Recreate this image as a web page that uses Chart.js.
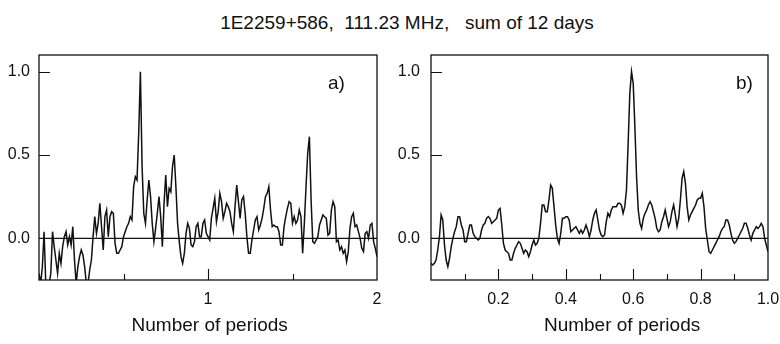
<!DOCTYPE html>
<html><head><meta charset="utf-8">
<script src="https://cdn.jsdelivr.net/npm/chart.js@4/dist/chart.umd.min.js"></script>
<style>
html,body{margin:0;padding:0;background:#fff;}
#wrap{position:relative;width:780px;height:344px;overflow:hidden;background:#fff;}
#title{position:absolute;left:0;width:814px;top:12px;text-align:center;font:19px "Liberation Sans",Arial,Helvetica,sans-serif;color:#111;white-space:pre;line-height:22px;}
canvas{position:absolute;top:50px;}
#ca{left:0}
#cb{left:390px}
</style></head><body>
<div id="wrap"><div id="title">1E2259+586,  111.23 MHz,   sum of 12 days</div>
<canvas id="ca" width="390" height="294"></canvas>
<canvas id="cb" width="390" height="294"></canvas></div>
<script>
// ---- data ----
const titleText = "1E2259+586,  111.23 MHz,   sum of 12 days";
const xTitle = "Number of periods";
const yTicks = [0, 0.5, 1.0];
const xLabelsA = [1, 2];
const xMajorA = [1];
const xMinorA = [0.5, 1.5];
const xLabelsB = [0.2, 0.4, 0.6, 0.8, 1.0];
const xMajorB = [0.2, 0.4, 0.6, 0.8];
const xMinorB = [0.1, 0.3, 0.5, 0.7, 0.9];

const phaseA = [
0,0.01,0.02,0.03,0.04,0.05,0.06,0.07,0.08,0.09,
0.10,0.11,0.12,0.13,0.14,0.15,0.16,0.17,0.18,0.19,
0.20,0.21,0.22,0.23,0.24,0.25,0.26,0.27,0.28,0.29,
0.30,0.31,0.32,0.33,0.34,0.35,0.36,0.37,0.38,0.39,
0.40,0.41,0.42,0.43,0.44,0.45,0.46,0.47,0.48,0.49,
0.50,0.51,0.52,0.53,0.54,0.55,0.56,0.57,0.58,0.59,
0.60,0.61,0.62,0.63,0.64,0.65,0.66,0.67,0.68,0.69,
0.70,0.71,0.72,0.73,0.74,0.75,0.76,0.77,0.78,0.79,
0.80,0.81,0.82,0.83,0.84,0.85,0.86,0.87,0.88,0.89,
0.90,0.91,0.92,0.93,0.94,0.95,0.96,0.97,0.98,0.99,
1.00,1.01,1.02,1.03,1.04,1.05,1.06,1.07,1.08,1.09,
1.10,1.11,1.12,1.13,1.14,1.15,1.16,1.17,1.18,1.19,
1.20,1.21,1.22,1.23,1.24,1.25,1.26,1.27,1.28,1.29,
1.30,1.31,1.32,1.33,1.34,1.35,1.36,1.37,1.38,1.39,
1.40,1.41,1.42,1.43,1.44,1.45,1.46,1.47,1.48,1.49,
1.50,1.51,1.52,1.53,1.54,1.55,1.56,1.57,1.58,1.59,
1.60,1.61,1.62,1.63,1.64,1.65,1.66,1.67,1.68,1.69,
1.70,1.71,1.72,1.73,1.74,1.75,1.76,1.77,1.78,1.79,
1.80,1.81,1.82,1.83,1.84,1.85,1.86,1.87,1.88,1.89,
1.90,1.91,1.92,1.93,1.94,1.95,1.96,1.97,1.98,1.99,
2.00];

const powerA = [
-0.21,-0.27,-0.17,0.04,-0.27,-0.27,-0.27,-0.21,0.04,-0.05,
-0.13,-0.21,-0.09,-0.15,-0.05,0.01,0.04,-0.04,0.01,-0.04,
0.07,-0.13,-0.27,-0.17,-0.11,-0.07,-0.10,-0.17,-0.27,-0.27,
-0.19,-0.13,0.01,0.13,0.03,0.09,0.21,0.07,-0.07,0.13,
0.17,0.01,0.13,0.16,0.15,-0.03,-0.09,-0.09,-0.07,-0.05,
0.01,0.04,0.07,0.09,0.13,0.11,0.31,0.37,0.35,0.63,
1.00,0.43,0.15,0.09,0.23,0.35,0.25,0.09,-0.02,0.06,
0.15,0.25,0.13,-0.05,0.21,0.38,0.19,0.30,0.28,0.43,
0.50,0.31,0.09,-0.02,-0.11,-0.15,-0.09,0.03,0.09,0.06,
-0.04,-0.05,-0.02,0.07,0.09,0.01,0.01,0.09,0.11,0.03,
0.01,-0.01,0.12,0.18,0.24,0.10,0.16,0.27,0.22,0.12,
0.16,0.21,0.19,0.16,0.09,0.04,0.19,0.32,0.22,0.12,
0.23,0.25,0.15,0.01,-0.09,-0.09,-0.01,0.05,0.11,0.13,
0.05,0.08,0.12,0.18,0.25,0.27,0.31,0.17,0.07,0.08,
0.07,0.07,0.04,-0.04,-0.04,0.07,0.13,0.18,0.22,0.21,
0.09,0.13,0.09,0.11,0.17,0.13,-0.09,0.09,0.31,0.51,
0.61,0.23,-0.02,-0.03,-0.01,0.01,0.08,0.11,0.14,0.13,
0.12,0.02,0.03,0.17,0.22,0.19,-0.02,-0.01,-0.07,-0.05,
-0.09,-0.07,-0.14,-0.08,0.06,0.13,0.15,0.07,0.08,0.04,
0.00,-0.06,-0.08,0.03,0.04,0.00,0.08,0.09,-0.02,-0.06,
-0.11];

const phaseB = [
0,0.005,0.010,0.015,0.020,0.025,0.030,0.035,0.040,0.045,
0.050,0.055,0.060,0.065,0.070,0.075,0.080,0.085,0.090,0.095,
0.100,0.105,0.110,0.115,0.120,0.125,0.130,0.135,0.140,0.145,
0.150,0.155,0.160,0.165,0.170,0.175,0.180,0.185,0.190,0.195,
0.200,0.205,0.210,0.215,0.220,0.225,0.230,0.235,0.240,0.245,
0.250,0.255,0.260,0.265,0.270,0.275,0.280,0.285,0.290,0.295,
0.300,0.305,0.310,0.315,0.320,0.325,0.330,0.335,0.340,0.345,
0.350,0.355,0.360,0.365,0.370,0.375,0.380,0.385,0.390,0.395,
0.400,0.405,0.410,0.415,0.420,0.425,0.430,0.435,0.440,0.445,
0.450,0.455,0.460,0.465,0.470,0.475,0.480,0.485,0.490,0.495,
0.500,0.505,0.510,0.515,0.520,0.525,0.530,0.535,0.540,0.545,
0.550,0.555,0.560,0.565,0.570,0.575,0.580,0.585,0.590,0.595,
0.600,0.605,0.610,0.615,0.620,0.625,0.630,0.635,0.640,0.645,
0.650,0.655,0.660,0.665,0.670,0.675,0.680,0.685,0.690,0.695,
0.700,0.705,0.710,0.715,0.720,0.725,0.730,0.735,0.740,0.745,
0.750,0.755,0.760,0.765,0.770,0.775,0.780,0.785,0.790,0.795,
0.800,0.805,0.810,0.815,0.820,0.825,0.830,0.835,0.840,0.845,
0.850,0.855,0.860,0.865,0.870,0.875,0.880,0.885,0.890,0.895,
0.900,0.905,0.910,0.915,0.920,0.925,0.930,0.935,0.940,0.945,
0.950,0.955,0.960,0.965,0.970,0.975,0.980,0.985,0.990,0.995,
1.000];

const powerB = [
-0.15,-0.16,-0.15,-0.13,-0.07,0.01,0.14,0.11,-0.04,-0.13,
-0.17,-0.12,-0.05,0.00,0.04,0.07,0.13,0.13,0.08,0.05,
-0.02,-0.02,0.03,0.08,0.08,0.03,0.01,0.00,-0.01,0.00,
0.05,0.08,0.09,0.12,0.13,0.12,0.09,0.10,0.11,0.12,
0.17,0.18,0.08,-0.03,-0.07,-0.08,-0.09,-0.13,-0.13,-0.09,
-0.06,-0.04,-0.02,-0.03,-0.06,-0.09,-0.07,-0.08,-0.11,-0.08,
-0.04,-0.01,-0.04,-0.03,0.00,0.09,0.20,0.20,0.16,0.16,
0.23,0.32,0.30,0.19,0.08,0.00,-0.03,0.03,0.12,0.12,
0.13,0.13,0.11,0.04,0.05,0.06,0.07,0.05,0.03,0.05,
0.03,0.05,0.08,0.05,0.01,0.05,0.11,0.15,0.17,0.11,
0.05,0.02,0.01,0.02,0.10,0.15,0.13,0.17,0.19,0.19,
0.19,0.21,0.21,0.20,0.15,0.19,0.29,0.57,0.87,1.00,
0.93,0.67,0.37,0.17,0.09,0.06,0.12,0.15,0.17,0.20,
0.22,0.20,0.16,0.12,0.06,0.04,0.05,0.10,0.13,0.17,
0.12,0.07,0.10,0.16,0.20,0.14,0.07,0.12,0.23,0.36,
0.40,0.33,0.19,0.11,0.14,0.16,0.18,0.20,0.23,0.24,
0.24,0.27,0.19,0.06,-0.01,-0.08,-0.09,-0.07,-0.05,-0.03,
-0.01,0.01,0.04,0.06,0.07,0.11,0.11,0.08,0.03,-0.01,
-0.03,-0.02,0.00,0.02,0.04,0.06,0.09,0.09,0.06,0.02,
-0.01,0.03,0.05,0.07,0.06,0.07,0.09,0.07,0.00,-0.04,
-0.08];

// ---- drawing ----
const FONT = '"Liberation Sans", Arial, Helvetica, sans-serif';
const INK = '#111';

const framePlugin = {
  id: 'frame',
  afterDatasetsDraw(chart, args, o) {
    const {ctx, chartArea: a, scales: {x, y}} = chart;
    ctx.save();
    ctx.strokeStyle = INK;
    ctx.lineWidth = 1.3;
    ctx.strokeRect(a.left, a.top, a.right - a.left, a.bottom - a.top);
    ctx.lineWidth = 1.1;
    ctx.beginPath();
    o.major.forEach(v => { const p = Math.round(x.getPixelForValue(v)) + 0.5; ctx.moveTo(p, a.bottom); ctx.lineTo(p, a.bottom - 11); });
    o.minor.forEach(v => { const p = Math.round(x.getPixelForValue(v)) + 0.5; ctx.moveTo(p, a.bottom); ctx.lineTo(p, a.bottom - 6); });
    o.yMarks.forEach(v => { const p = Math.round(y.getPixelForValue(v)) + 0.5; ctx.moveTo(a.left, p); ctx.lineTo(a.left + 11, p); });
    ctx.stroke();
    ctx.fillStyle = INK;
    ctx.textAlign = 'center';
    ctx.textBaseline = 'middle';
    ctx.font = '19px ' + FONT;
    ctx.fillText(o.label, x.getPixelForValue(o.labelX), y.getPixelForValue(o.labelY));
    ctx.font = '19px ' + FONT;
    ctx.fillText(o.title, x.getPixelForValue(o.titleX), a.bottom + o.titleDy);
    ctx.restore();
  }
};

function zeroPad(s) { s.paddingTop = 0; s.paddingBottom = 0; s.paddingLeft = 0; s.paddingRight = 0; }

function makePanel(id, xs, ys, c) {
  const pts = xs.map((xv, i) => ({x: xv, y: ys[i]}));
  return new Chart(document.getElementById(id), {
    type: 'line',
    data: {
      datasets: [
        {data: pts, borderColor: INK, borderWidth: 1.5, pointRadius: 0, tension: 0, clip: 0, fill: false},
        {data: [{x: c.xMin, y: 0}, {x: c.xMax, y: 0}], borderColor: INK, borderWidth: 1.4, pointRadius: 0, clip: 0, fill: false}
      ]
    },
    options: {
      responsive: false, animation: false, devicePixelRatio: 1,
      events: [],
      layout: {padding: {top: 5, right: c.padRight, left: 0, bottom: 0}},
      plugins: {
        legend: {display: false}, tooltip: {enabled: false},
        frame: {major: c.major, minor: c.minor, yMarks: yTicks, label: c.label, labelX: c.labelX, labelY: 0.93,
                title: xTitle, titleX: c.titleX, titleDy: 46}
      },
      scales: {
        x: {
          type: 'linear', min: c.xMin, max: c.xMax,
          grid: {display: false, drawTicks: false}, border: {display: false},
          afterBuildTicks: s => { s.ticks = c.xLabels.map(v => ({value: v})); },
          afterFit: s => { s.height = 64; zeroPad(s); },
          ticks: {autoSkip: false, maxRotation: 0, padding: 10, color: INK, font: {family: FONT, size: 16},
                  callback: v => c.fmt(v)}
        },
        y: {
          min: -0.25, max: 1.1,
          grid: {display: false, drawTicks: false}, border: {display: false},
          afterBuildTicks: s => { s.ticks = yTicks.map(v => ({value: v})); },
          afterFit: s => { s.width = c.yWidth; zeroPad(s); },
          ticks: {autoSkip: false, padding: c.yPad, color: INK, font: {family: FONT, size: 16},
                  callback: v => Number(v).toFixed(1)}
        }
      }
    },
    plugins: [framePlugin]
  });
}

makePanel('ca', phaseA, powerA, {
  xMin: 0, xMax: 2, xLabels: xLabelsA, major: xMajorA, minor: xMinorA,
  fmt: v => String(v), padRight: 13, yWidth: 39, yPad: 9,
  label: 'a)', labelX: 1.76, titleX: 1.01
});
makePanel('cb', phaseB, powerB, {
  xMin: 0, xMax: 1, xLabels: xLabelsB, major: xMajorB, minor: xMinorB,
  fmt: v => Number(v).toFixed(1), padRight: 12, yWidth: 41, yPad: 11,
  label: 'b)', labelX: 0.93, titleX: 0.567
});
</script>
</body></html>
